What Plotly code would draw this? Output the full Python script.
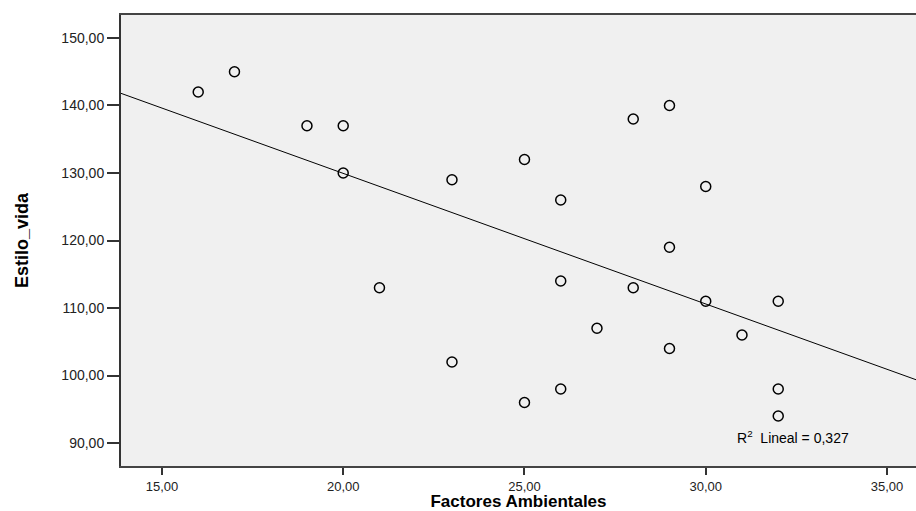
import numpy as np
import plotly.graph_objects as go

factores = [16, 17, 19, 20, 20, 21, 23, 23, 25, 25, 26, 26, 26, 27, 28, 28, 29, 29, 29, 30, 30, 31, 32, 32, 32]
estilo = [142, 145, 137, 137, 130, 113, 129, 102, 132, 96, 126, 114, 98, 107, 138, 113, 140, 119, 104, 128, 111, 106, 111, 98, 94]
x_ticks = [15, 20, 25, 30, 35]
y_ticks = [90, 100, 110, 120, 130, 140, 150]
r2_label = "R<sup>2</sup>  Lineal = 0,327"

x_range = [13.87, 35.8]
y_range = [86.6, 153.4]

slope, intercept = np.polyfit(factores, estilo, 1)
line_x = np.array(x_range)
line_y = slope * line_x + intercept

fig = go.Figure()
fig.add_trace(go.Scatter(x=line_x, y=line_y, mode="lines",
                         line=dict(color="black", width=1), hoverinfo="skip"))
fig.add_trace(go.Scatter(x=factores, y=estilo, mode="markers",
                         marker=dict(symbol="circle-open", size=10, color="black",
                                     line=dict(width=1.5, color="black"))))

fig.add_annotation(x=30.8, y=90.9, xref="x", yref="y", text=r2_label,
                   showarrow=False, xanchor="left", yanchor="middle",
                   font=dict(family="Liberation Sans, Arial", size=14, color="black"))

fig.update_layout(
    width=916, height=511,
    margin=dict(l=121, r=0, t=15, b=45, autoexpand=False),
    paper_bgcolor="white", plot_bgcolor="#f0f0f0",
    showlegend=False,
    separators=",.",
    font=dict(family="Liberation Sans, Arial", color="black"),
)
fig.update_xaxes(range=x_range, tickvals=x_ticks, tickformat=".2f",
                 ticks="outside", ticklen=7, tickwidth=2, tickcolor="#333",
                 showgrid=False, zeroline=False, automargin=False,
                 showline=True, linecolor="#444", linewidth=2, mirror=True,
                 tickfont=dict(size=13, color="#222"),
                 title=dict(text="<b>Factores Ambientales</b>", font=dict(size=17), standoff=0))
fig.update_yaxes(range=y_range, tickvals=y_ticks, tickformat=".2f",
                 ticks="outside", ticklen=12, tickwidth=2, tickcolor="#333",
                 showgrid=False, zeroline=False, automargin=False,
                 showline=True, linecolor="#333", linewidth=2,
                 tickfont=dict(size=14, color="#222"),
                 title=dict(text="<b>Estilo_vida</b>",
                            font=dict(family="Liberation Sans, Arial", size=18),
                            standoff=28))

fig.write_html("out.html", config={"displayModeBar": False},
               post_script="document.body.style.margin='0';document.body.style.overflow='hidden';")
